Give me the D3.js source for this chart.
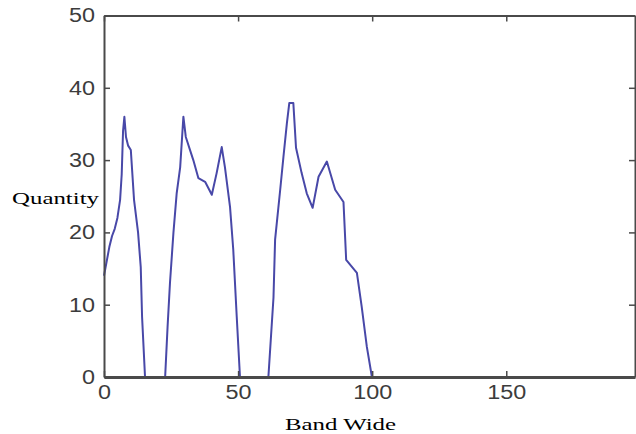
<!DOCTYPE html>
<html>
<head>
<meta charset="utf-8">
<script src="https://cdn.jsdelivr.net/npm/d3@7"></script>
<style>
  body { margin: 0; background: #fff; }
  svg { display: block; }
</style>
</head>
<body>
<script>
"use strict";

const WIDTH = 636
const HEIGHT = 434

// band width (x) and quantity (y)
const band = [
    0, 1, 2, 3, 4, 5, 6, 6.6, 7.1, 7.6, 8.2, 9, 10, 11.2, 12.7, 13.7, 14.2, 15.3,
    22.8, 23.7, 24.6, 25.9, 27.1, 28.4, 29.6, 30.5, 33.3, 35.2, 37.7, 40.2, 42, 43.9,
    45.1, 47, 48.2, 49.5, 50.7,
    61.3, 63.2, 63.8, 65.7, 66.9, 68.2, 69.1, 70.6, 71.6, 73.7, 75.6, 77.8, 80, 83.1,
    86.2, 89.3, 90.3, 94.3, 96.1, 98, 99.9, 198
]
const quantity = [
    14, 16, 18, 19.5, 20.5, 22, 24.5, 28, 34, 36, 33.2, 32, 31.4, 24.5, 20, 15.2, 8.3, 0,
    0, 6.9, 13, 20, 25.4, 29, 36, 33.2, 30, 27.5, 27, 25.2, 28.2, 31.8,
    29, 23.5, 17.6, 8.3, 0,
    0, 11, 19, 25.9, 30.4, 35.1, 37.9, 37.9, 31.7, 28.2, 25.4, 23.4, 27.7, 29.8,
    25.9, 24.2, 16.2, 14.4, 9.7, 4.2, 0, 0
]
const x_ticks = [0, 50, 100, 150]
const y_ticks = [0, 10, 20, 30, 40, 50]

const margin = { left: 104, right: 1, top: 15.5, bottom: 57 }

const svg = d3.select("body").append("svg")
    .attr("width", WIDTH)
    .attr("height", HEIGHT)

const x = d3.scaleLinear()
    .domain([0, 198])
    .range([margin.left, WIDTH - margin.right])
const y = d3.scaleLinear()
    .domain([0, 50])
    .range([HEIGHT - margin.bottom, margin.top])

const points = band.map((b, i) => [b, quantity[i]])

// the curve
svg.append("path")
    .datum(points)
    .attr("fill", "none")
    .attr("stroke", "#4848a8")
    .attr("stroke-width", 2)
    .attr("stroke-linejoin", "round")
    .attr("d", d3.line().x(d => x(d[0])).y(d => y(d[1])))

// matlab-like box with inward ticks on every side
const axis_color = "#4a4a4a"
const tick_len = 6

const bottom = svg.append("g")
    .attr("transform", `translate(0,${y(0)})`)
    .call(d3.axisBottom(x).tickValues(x_ticks).tickSizeInner(-tick_len).tickSizeOuter(0).tickPadding(10))
const top_axis = svg.append("g")
    .attr("transform", `translate(0,${y(50)})`)
    .call(d3.axisTop(x).tickValues(x_ticks).tickSizeInner(-tick_len).tickSizeOuter(0).tickFormat(""))
const left = svg.append("g")
    .attr("transform", `translate(${x(0)},0)`)
    .call(d3.axisLeft(y).tickValues(y_ticks).tickSizeInner(-tick_len).tickSizeOuter(0).tickPadding(10))
const right = svg.append("g")
    .attr("transform", `translate(${x(198)},0)`)
    .call(d3.axisRight(y).tickValues(y_ticks).tickSizeInner(-tick_len).tickSizeOuter(0).tickFormat(""))

for (const g of [bottom, top_axis, left, right]) {
    g.select(".domain").attr("stroke", axis_color).attr("stroke-width", 2)
    g.selectAll(".tick line").attr("stroke", axis_color).attr("stroke-width", 1.5)
}
// the zero runs of the curve sit under the bottom axis
bottom.select(".domain").attr("stroke-width", 3.2)

// tick labels: the picture is stretched sideways, so widen the digits
for (const g of [bottom, left]) {
    g.selectAll(".tick text")
        .attr("fill", "#3c3c3c")
        .attr("font-family", "Liberation Sans, Arial, sans-serif")
        .attr("font-size", 20)
        .attr("textLength", d => String(d).length * 13)
        .attr("lengthAdjust", "spacingAndGlyphs")
}
bottom.selectAll(".tick text").attr("dy", "0.62em")
left.selectAll(".tick text").attr("x", -9)

// axis titles
svg.append("text")
    .attr("x", 12)
    .attr("y", 204)
    .attr("font-family", "Liberation Serif, Times New Roman, serif")
    .attr("font-size", 17)
    .attr("textLength", 87)
    .attr("lengthAdjust", "spacingAndGlyphs")
    .text("Quantity")

svg.append("text")
    .attr("x", 285)
    .attr("y", 430)
    .attr("font-family", "Liberation Serif, Times New Roman, serif")
    .attr("font-size", 17)
    .attr("textLength", 111)
    .attr("lengthAdjust", "spacingAndGlyphs")
    .text("Band Wide")
</script>
</body>
</html>
